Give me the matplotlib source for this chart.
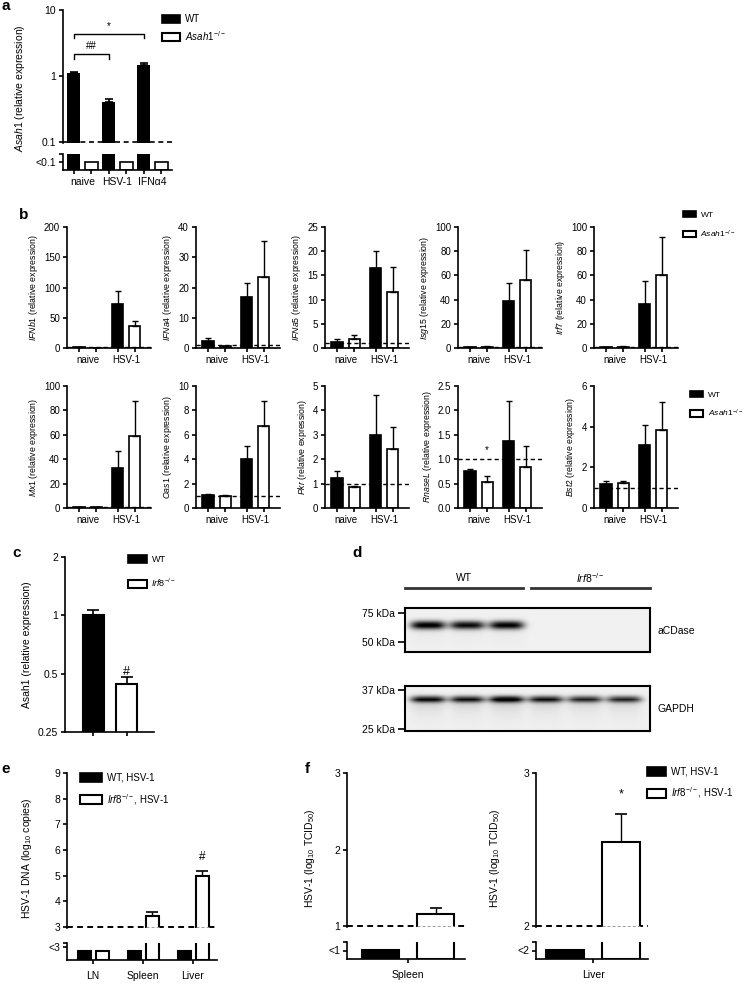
import numpy as np
import matplotlib
matplotlib.use("Agg")
import matplotlib.pyplot as plt
from matplotlib.patches import Patch
from matplotlib.lines import Line2D
from matplotlib.ticker import NullLocator

plt.rcParams['font.family'] = ['Liberation Sans', 'DejaVu Sans']
plt.rcParams['mathtext.fontset'] = 'custom'
plt.rcParams['mathtext.rm'] = 'Liberation Sans'
plt.rcParams['mathtext.it'] = 'Liberation Sans:italic'
plt.rcParams['mathtext.bf'] = 'Liberation Sans:bold'
plt.rcParams['axes.linewidth'] = 1.2

# ---- data ----
# a: Asah1 expression (KO below detection everywhere)
a_groups = ["naive", "HSV-1", "IFN\u03b14"]
a_wt = [1.1, 0.4, 1.45]
a_wt_err = [0.07, 0.05, 0.1]
a_sig = [(0, 2, 4.4, "*"), (0, 1, 2.15, "##")]  # (group i, group j, bracket height, label)

# b: ISG expression, bars = [naive WT, naive KO, HSV-1 WT, HSV-1 KO]
b_genes = ["IFNb1", "IFNa4", "IFNa5", "Isg15", "Irf7",
           "Mx1", "Oas1", "Pkr", "RnaseL", "Bst2"]
b_means = [[1.0, 0.3, 72, 36], [2.2, 0.5, 17, 23.5], [1.2, 1.9, 16.5, 11.5],
           [0.6, 1.0, 39, 56], [0.5, 0.8, 36, 60],
           [0.5, 0.6, 33, 59], [1.05, 0.95, 4.05, 6.75], [1.25, 0.85, 3.0, 2.4],
           [0.75, 0.53, 1.38, 0.83], [1.2, 1.25, 3.1, 3.85]]
b_errs = [[1.0, 0.2, 23, 8], [1.0, 0.3, 4.5, 12], [0.6, 0.8, 3.5, 5.2],
          [0.3, 0.5, 15, 25], [0.3, 0.5, 19, 32],
          [0.3, 0.3, 14, 29], [0.1, 0.1, 1.05, 2.05], [0.25, 0.07, 1.65, 0.9],
          [0.05, 0.12, 0.82, 0.45], [0.15, 0.1, 1.0, 1.35]]
b_ymax = [200, 40, 25, 100, 100, 100, 10, 5, 2.5, 6]
b_step = [50, 10, 5, 20, 20, 20, 2, 1, 0.5, 2]
b_groups = ["naive", "HSV-1"]

# c: Asah1 in WT vs Irf8-/-
c_vals = [1.0, 0.44]
c_errs = [0.07, 0.04]

# d: western blot band intensities per lane (3 WT, 3 Irf8-/-)
d_acdase = [1.0, 0.92, 0.97, 0.0, 0.0, 0.0]
d_gapdh = [0.85, 0.8, 0.95, 0.8, 0.72, 0.72]

# e: HSV-1 DNA (log10 copies), None = below detection (<3)
e_groups = ["LN", "Spleen", "Liver"]
e_wt = [None, None, None]
e_ko = [None, 3.42, 5.0]
e_ko_err = [0, 0.15, 0.2]

# f: HSV-1 titre (log10 TCID50)
f_organs = ["Spleen", "Liver"]
f_lod = [1, 2]
f_wt = [None, None]
f_ko = [1.16, 2.55]
f_ko_err = [0.08, 0.18]

W, H = 743, 984
fig = plt.figure(figsize=(W / 100, H / 100), dpi=100)


def add_ax(x0, y0, x1, y1):
    return fig.add_axes([x0 / W, 1 - y1 / H, (x1 - x0) / W, (y1 - y0) / H])


def clean(ax, bottom=True):
    ax.spines['top'].set_visible(False)
    ax.spines['right'].set_visible(False)
    ax.spines['bottom'].set_visible(bottom)
    ax.tick_params(axis='both', direction='out', length=3, width=1.2, labelsize=7, pad=2)
    ax.patch.set_alpha(0)


def ftext(x, y, s, **kw):
    fig.text(x / W, 1 - y / H, s, **kw)


def legend_at(labels, x, y, fs, hl, hh, sp):
    handles = [Patch(facecolor='black', edgecolor='black', lw=1.2),
               Patch(facecolor='white', edgecolor='black', lw=1.5)]
    fig.legend(handles, labels, loc='upper left', bbox_to_anchor=(x / W, 1 - y / H),
               frameon=False, fontsize=fs, handlelength=hl, handleheight=hh,
               labelspacing=sp, handletextpad=0.5, borderaxespad=0, borderpad=0)


ASAH = r"$\it{Asah1}^{-/-}$"
IRF8 = r"$\it{Irf8}^{-/-}$"
DASH = (0, (3, 2.2))

# ---------------- panel a ----------------
ax = add_ax(63, 10, 172, 143)
clean(ax, bottom=False)
ax.set_yscale('log')
pos = np.arange(len(a_groups)) * 2
ax.bar(pos, np.array(a_wt) - 0.05, bottom=0.05, width=0.75, color='black', zorder=2)
ax.errorbar(pos, a_wt, yerr=[np.zeros(3), a_wt_err], fmt='none', ecolor='black',
            elinewidth=1.2, capsize=3, capthick=1.2, zorder=3)
ax.axhline(0.1, color='black', lw=1.2, ls=DASH, zorder=1)
ax.set_ylim(0.097, 10)
ax.set_xlim(-0.6, 5.6)
ax.set_yticks([0.1, 1, 10])
ax.set_yticklabels(["0.1", "1", "10"], fontsize=7.5)
ax.yaxis.set_minor_locator(NullLocator())
ax.set_xticks([])
for i, j, yb, s in a_sig:
    ax.plot([pos[i], pos[i], pos[j], pos[j]], [yb / 1.17, yb, yb, yb / 1.17], color='black', lw=1)
    ax.text((pos[i] + pos[j]) / 2, yb * 1.1, s, ha='center', va='bottom', fontsize=7)

lo = add_ax(63, 154, 172, 170)
clean(lo)
lo.bar(pos, 2, width=0.75, color='black')
lo.bar(pos + 1, 0.5, width=0.75, facecolor='white', edgecolor='black', lw=1.2)
lo.set_ylim(0, 1)
lo.set_xlim(-0.6, 5.6)
lo.set_yticks([0.5, 1.0])
lo.set_yticklabels(["<0.1", ""], fontsize=7.5)
lo.set_xticks(np.arange(6))
lo.set_xticklabels([])
lo.set_xticks(pos + 0.5, minor=True)
lo.set_xticklabels(a_groups, minor=True)
lo.tick_params(axis='x', which='minor', length=0, labelsize=7.5, pad=5)
ftext(20, 88, r"$\it{Asah1}$ (relative expression)", rotation=90, ha='center', va='center', fontsize=7.5)
legend_at(["WT", ASAH], 162, 14, 7, 1.9, 0.9, 0.5)

# ---------------- panel b ----------------
lefts = [67, 196, 325, 458, 594]
rows = [(227, 348), (386, 508)]
bpos = np.array([0, 1, 2.25, 3.25])
bcol = ['black', 'white', 'black', 'white']
for k, g in enumerate(b_genes):
    r, c = divmod(k, 5)
    y0, y1 = rows[r]
    ax = add_ax(lefts[c], y0, lefts[c] + 84, y1)
    clean(ax)
    ax.bar(bpos, b_means[k], width=0.65, color=bcol, edgecolor='black', lw=1.2, zorder=2)
    ax.errorbar(bpos, b_means[k], yerr=[np.zeros(4), b_errs[k]], fmt='none', ecolor='black',
                elinewidth=1, capsize=2.5, capthick=1, zorder=3)
    ax.axhline(1, color='black', lw=1, ls=DASH, zorder=4)
    ax.set_ylim(0, b_ymax[k])
    ax.set_xlim(-0.7, 4.2)
    ticks = np.arange(0, b_ymax[k] + 1e-9, b_step[k])
    ax.set_yticks(ticks)
    if b_step[k] < 1:
        ax.set_yticklabels([f"{t:.1f}" for t in ticks])
    else:
        ax.set_yticklabels([f"{t:g}" for t in ticks])
    ax.set_xticks(bpos)
    ax.set_xticklabels([])
    ax.set_xticks([0.5, 2.75], minor=True)
    ax.set_xticklabels(b_groups, minor=True)
    ax.tick_params(axis='x', which='minor', length=0, labelsize=7, pad=5)
    ax.set_ylabel(rf"$\it{{{g}}}$ (relative expression)", fontsize=6.3, labelpad=3)
    if g == "RnaseL":
        ax.text(bpos[1], 1.08, "*", ha='center', va='bottom', fontsize=7)
legend_at(["WT", ASAH], 683, 211, 6, 1.6, 0.8, 1.1)
legend_at(["WT", ASAH], 690, 391, 6, 1.6, 0.8, 1.0)

# ---------------- panel c ----------------
ax = add_ax(65, 557, 154, 732)
clean(ax)
ax.set_yscale('log', base=2)
cpos = np.arange(2)
ax.bar(cpos, np.array(c_vals) - 0.2, bottom=0.2, width=0.64, color=['black', 'white'],
       edgecolor='black', lw=1.5, zorder=2)
ax.errorbar(cpos, c_vals, yerr=[np.zeros(2), c_errs], fmt='none', ecolor='black',
            elinewidth=1.2, capsize=4, capthick=1.2, zorder=3)
ax.set_ylim(0.25, 2)
ax.set_xlim(-0.86, 1.83)
ax.set_yticks([0.25, 0.5, 1, 2])
ax.set_yticklabels(["0.25", "0.5", "1", "2"], fontsize=7.5)
ax.yaxis.set_minor_locator(NullLocator())
ax.set_xticks(cpos)
ax.set_xticklabels([])
ax.text(cpos[1], 0.51, "#", ha='center', va='center', fontsize=9)
ax.set_ylabel("Asah1 (relative expression)", fontsize=7.5, labelpad=4)
legend_at(["WT", IRF8], 128, 555, 6.5, 2.1, 0.9, 1.4)

# ---------------- panel d (western blot) ----------------
lanes = np.arange(6)


def blot(ax, amps, x0, x1, y0, y1, yc, hh, smear):
    xs = np.linspace(x0, x1, 500)
    ys = np.linspace(y0, y1, 160)
    X, Y = np.meshgrid(xs, ys)
    img = np.full(X.shape, 0.06)
    centers = x0 + 23 + 39.3 * lanes
    for c, a in zip(centers, amps):
        px = np.exp(-((X - c) / 17.5) ** 4)
        img += a * px * np.exp(-((Y - yc) / hh) ** 2)
        img += a * smear * px * (Y > yc) * np.exp(-(Y - yc) / 9.0)
    ax.imshow(img, extent=(x0, x1, y1, y0), cmap='gray_r', vmin=0, vmax=1.05,
              aspect='auto', interpolation='bilinear')
    ax.set_xlim(x0, x1)
    ax.set_ylim(y1, y0)
    ax.set_xticks([])
    for s in ax.spines.values():
        s.set_linewidth(1.5)
    ax.tick_params(axis='y', direction='out', length=5, width=1.2, labelsize=7.5, pad=2)


d1 = add_ax(405, 608, 650, 652)
blot(d1, d_acdase, 405, 650, 608, 652, 625, 4.2, 0.08)
d1.set_yticks([613, 642])
d1.set_yticklabels(["75 kDa", "50 kDa"])
d1.text(657, 631, "aCDase", ha='left', va='center', fontsize=7.5)

d2 = add_ax(405, 686, 650, 731)
blot(d2, d_gapdh, 405, 650, 686, 731, 699, 3.4, 0.25)
d2.set_yticks([690, 729])
d2.set_yticklabels(["37 kDa", "25 kDa"])
d2.text(657, 709, "GAPDH", ha='left', va='center', fontsize=7.5)

for xa_, xb_, lab in [(405, 523, "WT"), (531, 650, IRF8)]:
    fig.add_artist(Line2D([xa_ / W, xb_ / W], [1 - 588 / H, 1 - 588 / H], color='#333333', lw=2))
    ftext((xa_ + xb_) / 2, 578, lab, ha='center', va='center', fontsize=7.5)

# ---------------- broken bar charts (e, f) ----------------


def broken(x0, x1, ytop, ymid, ylo, ybot, gpos, wpos, kpos, width, wt, ko, ko_err,
           lod, ymax, yticks, lo_label, lo_tick, lo_bar, xlim, labels):
    top = add_ax(x0, ytop, x1, ymid)
    clean(top, bottom=False)
    rng = ymax - lod
    top.axhline(lod, color='black', lw=1.4, ls=DASH, zorder=1)
    for p, v, col in [(wpos, wt, 'black'), (kpos, ko, 'white')]:
        for i, val in enumerate(v):
            if val is not None:
                top.bar(p[i], val - (lod - 1), bottom=lod - 1, width=width, facecolor=col,
                        edgecolor='black', lw=1.5, zorder=2)
                # faint detection line visible inside the bar
                top.hlines(lod, p[i] - width / 2, p[i] + width / 2, color='0.6', lw=0.7,
                           linestyles=DASH, zorder=4)
    for i, val in enumerate(ko):
        if val is not None:
            top.errorbar(kpos[i], val, yerr=[[0], [ko_err[i]]], fmt='none', ecolor='black',
                         elinewidth=1, capsize=4, capthick=1.2, zorder=3)
    top.set_ylim(lod - rng * 0.006, ymax)
    top.set_xlim(*xlim)
    top.set_yticks(yticks)
    top.set_yticklabels([f"{t:g}" for t in yticks], fontsize=7.5)
    top.set_xticks([])

    lo = add_ax(x0, ylo, x1, ybot)
    clean(lo)
    for p, v, col in [(wpos, wt, 'black'), (kpos, ko, 'white')]:
        for i, val in enumerate(v):
            h = lo_bar if val is None else 2
            lo.bar(p[i], h, width=width, facecolor=col, edgecolor='black', lw=1.5)
    lo.set_ylim(0, 1)
    lo.set_xlim(*xlim)
    lo.set_yticks([lo_tick, 1.0])
    lo.set_yticklabels([lo_label, ""], fontsize=7.5)
    lo.set_xticks(gpos)
    lo.set_xticklabels(labels, fontsize=7.5)
    lo.tick_params(axis='x', pad=5)
    return top


# panel e
eg = np.arange(len(e_groups))
top_e = broken(67, 217, 773, 928, 943, 960, eg, eg - 0.18, eg + 0.18, 0.26,
               e_wt, e_ko, e_ko_err, 3, 9, np.arange(3, 10), "<3", 0.76, 0.53,
               (-0.52, 2.48), e_groups)
top_e.text(eg[2] + 0.18, 5.72, "#", ha='center', va='center', fontsize=8.5)
ftext(27, 858, r"HSV-1 DNA (log$_{10}$ copies)", rotation=90, ha='center', va='center', fontsize=7.5)
legend_at(["WT, HSV-1", IRF8 + ", HSV-1"], 80, 773, 7, 2.3, 1.05, 0.9)

# panel f
f_boxes = [(347, 465, (-1.1, 1.03)), (536, 648, (-1.02, 0.98))]
f_ylab_x = [310, 495]
for k, organ in enumerate(f_organs):
    xa_, xb_, xl = f_boxes[k]
    g0 = np.array([0.0])
    top_f = broken(xa_, xb_, 773, 927, 942, 959, g0, g0 - 0.5, g0 + 0.5, 0.67,
                   [f_wt[k]], [f_ko[k]], [f_ko_err[k]], f_lod[k], 3,
                   np.arange(f_lod[k], 4), f"<{f_lod[k]}", 0.5, 0.53, xl, [organ])
    if organ == "Liver":
        top_f.text(0.5, 2.86, "*", ha='center', va='center', fontsize=9)
    ftext(f_ylab_x[k], 858, r"HSV-1 (log$_{10}$ TCID$_{50}$)", rotation=90,
          ha='center', va='center', fontsize=7.5)
legend_at(["WT, HSV-1", IRF8 + ", HSV-1"], 647, 767, 7, 2.0, 1.0, 0.85)

# panel letters
for lab, x, y in [("a", 6, 6), ("b", 24, 215), ("c", 17, 553), ("d", 357, 553),
                  ("e", 6, 769), ("f", 307, 769)]:
    ftext(x, y, lab, ha='center', va='center', fontsize=11, fontweight='bold')

fig.savefig("out.png", dpi=100)
